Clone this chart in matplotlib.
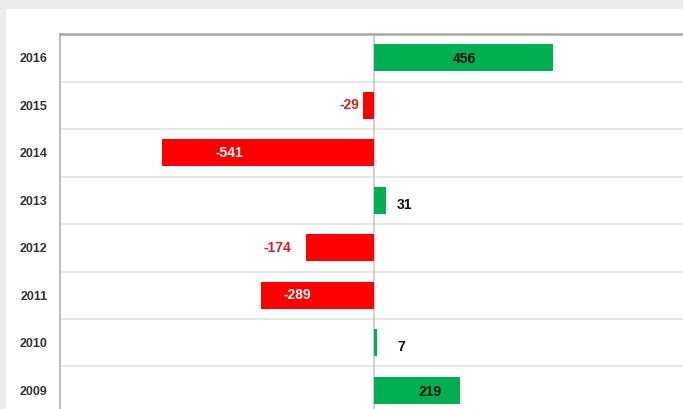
import matplotlib
matplotlib.use("Agg")
import matplotlib.pyplot as plt
from matplotlib.patches import Rectangle
import numpy as np

plt.rcParams['font.family'] = ['Liberation Sans', 'DejaVu Sans']

years = ['2016', '2015', '2014', '2013', '2012', '2011', '2010', '2009']
changes = [456, -29, -541, 31, -174, -289, 7, 219]

GREEN = '#00b050'
RED = '#ff0000'

fig = plt.figure(figsize=(6.83, 4.09), dpi=100)
fig.patch.set_facecolor('#ececec')
# white card behind the chart
card = Rectangle((6 / 683, 0), 1, 1 - 9 / 409, transform=fig.transFigure,
                 facecolor='white', edgecolor='none', zorder=-5)
fig.add_artist(card)

ax = fig.add_axes([60 / 683, 1 - 414 / 409, 628.6 / 683, 380 / 409])
ax.set_facecolor('none')

ypos = np.arange(len(years))
colors = [GREEN if v >= 0 else RED for v in changes]
ax.barh(ypos, changes, height=0.56, color=colors, zorder=3)

ax.set_xlim(-800, 800)
ax.set_ylim(len(years) - 0.5, -0.5)
ax.set_yticks(ypos)
ax.set_yticklabels(years, fontsize=9, fontweight='bold', color='#333333')
ax.tick_params(axis='y', length=0, pad=9)
ax.set_xticks([])

# row separators
for b in ypos[1:] - 0.5:
    ax.axhline(b, color='#e3e3e3', lw=1.2, zorder=1)
ax.axvline(0, color='#c8c8c8', lw=1.2, zorder=2)

for s in ['right', 'bottom']:
    ax.spines[s].set_visible(False)
ax.spines['left'].set_color('#c0c0c0')
ax.spines['left'].set_linewidth(1.5)
ax.spines['top'].set_color('#a8a8a8')
ax.spines['top'].set_linewidth(1.8)

# value labels, placed roughly like the original
for y, v in zip(ypos, changes):
    txt = str(v)
    if v >= 0:
        if v > 100:
            x = v / 2 if v > 300 else v * 0.65
            ax.text(x, y + 0.03, txt, ha='center', va='center', fontsize=10,
                    fontweight='bold', color='#111111', zorder=4)
        else:
            ax.text(58, y + 0.1, txt, ha='left', va='center', fontsize=10,
                    fontweight='bold', color='#111111', zorder=4)
    else:
        if v < -250:
            ax.text(v * 0.68, y, txt, ha='center', va='center', fontsize=10,
                    fontweight='bold', color='white', zorder=4)
        else:
            ax.text(v - 8 if v > -100 else v - 38, y, txt, ha='right', va='center',
                    fontsize=10, fontweight='bold', color='#d42020', zorder=4)

fig.savefig('out.png', dpi=100, facecolor=fig.get_facecolor())
